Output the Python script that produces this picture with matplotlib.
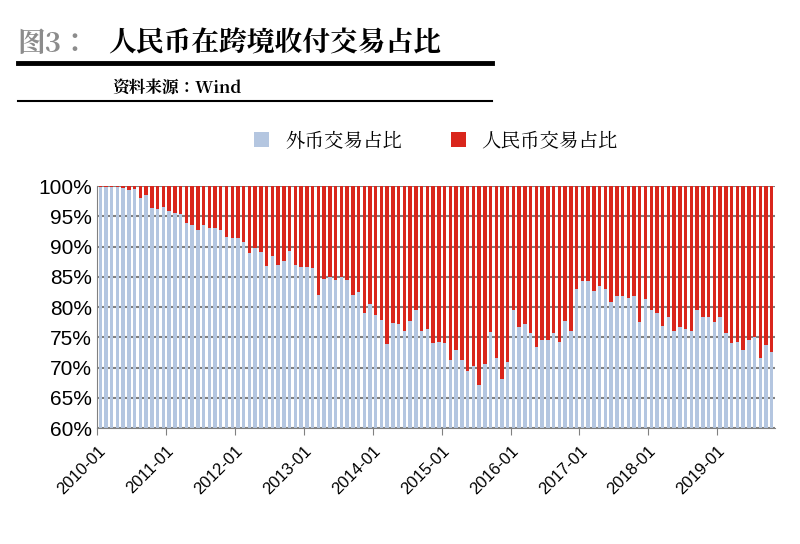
import matplotlib.pyplot as plt
from matplotlib import font_manager as fm
import numpy as np

cjk = [f.name for f in fm.fontManager.ttflist if 'CJK' in f.name]
cjk_name = 'Noto Sans CJK SC' if 'Noto Sans CJK SC' in cjk else (cjk[0] if cjk else 'DejaVu Sans')
plt.rcParams['font.family'] = [cjk_name, 'DejaVu Sans']

# foreign currency share (%) per month, 2010-01 .. 2019-10
foreign = [99.8, 99.8, 99.8, 99.8, 99.6, 99.3, 99.5, 98.0, 98.5, 96.4, 96.2, 96.5,
           95.9, 95.5, 95.4, 93.9, 93.6, 92.7, 93.6, 93.1, 93.1, 92.7, 91.6, 91.4,
           91.4, 90.7, 88.9, 89.8, 89.1, 86.8, 88.4, 86.9, 87.6, 89.3, 86.9, 86.6,
           86.6, 86.5,
           82.0, 84.6, 85.0, 84.5, 85.0, 84.5, 82.0, 82.5, 79.0, 80.5,
           78.7, 77.9, 73.9, 77.4, 77.2, 76.0, 77.7, 79.5, 76.0, 76.4, 74.0, 74.2,
           74.0, 71.2, 72.9, 71.2, 69.4, 70.2, 67.1, 70.6, 75.9, 71.6, 68.1, 70.9,
           79.5, 76.7, 77.2, 75.7, 73.4, 74.5,
           74.5, 75.7, 74.2, 77.7, 76.0, 83.0,
           84.3, 84.3, 82.6, 83.5, 83.0, 80.8, 81.8, 81.8, 81.5, 81.8, 77.5, 81.3,
           79.5, 79.0, 76.9, 78.3, 76.0, 76.7, 76.4, 76.0, 79.5, 78.3, 78.3, 77.5,
           78.3, 75.7, 74.1, 74.2, 72.9, 74.5, 75.0, 71.6, 73.7, 72.6]
rmb = [100 - v for v in foreign]
years = [str(y) + '-01' for y in range(2010, 2020)]

fig = plt.figure(figsize=(8, 5.44), dpi=100)
ax = fig.add_axes([0.121, 0.213, 0.848, 0.445])
x = np.arange(len(foreign))
ax.bar(x, foreign, width=0.6, color='#b4c6e0', label='外币交易占比', zorder=2)
ax.bar(x, rmb, bottom=foreign, width=0.6, color='#d9261c', label='人民币交易占比', zorder=2)
ax.set_ylim(60, 100)
ax.set_xlim(-0.6, len(foreign) - 0.4)
ax.set_yticks(range(60, 101, 5))
ax.set_yticklabels([f'{v}%' for v in range(60, 101, 5)], fontsize=15, fontfamily='Liberation Sans')
ax.set_xticks(np.arange(0, len(foreign), 12) - 0.5)
ax.set_xticklabels(years, rotation=45, ha='right', rotation_mode='anchor', fontsize=12,
                   fontfamily='Liberation Sans')
ax.grid(axis='y', color='#808080', lw=1.5, zorder=1)
for s in ['top', 'right']:
    ax.spines[s].set_visible(False)
ax.spines['left'].set_color('#808080')
ax.spines['bottom'].set_color('#808080')
ax.tick_params(axis='y', length=0)
ax.tick_params(axis='x', length=5, color='#808080', pad=6)
ax.legend(loc='lower center', bbox_to_anchor=(0.5, 1.07), ncol=2, frameon=False,
          fontsize=14, handlelength=0.8, handleheight=0.8, columnspacing=2.5)

# header
fig.text(0.022, 0.905, '图3：', fontsize=20, fontweight='bold', color='#8c8c8c')
fig.text(0.135, 0.905, '人民币在跨境收付交易占比', fontsize=20, fontweight='bold', color='black')
fig.add_artist(plt.Line2D([0.022, 0.615], [0.885, 0.885], color='black', lw=3.5))
fig.text(0.14, 0.83, '资料来源：Wind', fontsize=12, fontweight='bold', color='black')
fig.add_artist(plt.Line2D([0.022, 0.615], [0.815, 0.815], color='black', lw=1.5))

fig.savefig('out.png', dpi=100)
